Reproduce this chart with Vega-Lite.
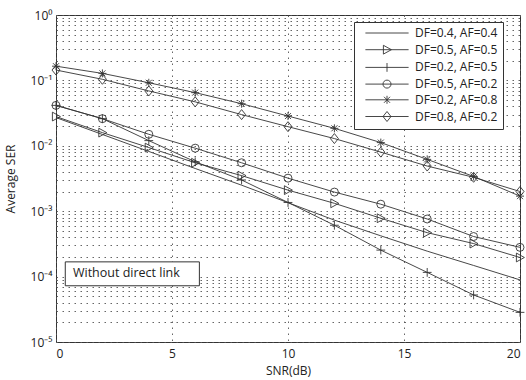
{
  "$schema": "https://vega.github.io/schema/vega-lite/v6.json",
  "width": 464,
  "height": 327,
  "autosize": {"type": "none"},
  "padding": {"left": 56, "top": 15, "right": 6, "bottom": 38},
  "background": "white",
  "config": {
    "view": {"stroke": "#333", "strokeWidth": 1},
    "font": "Open Sans",
    "axis": {
      "grid": true,
      "gridDash": [1.5, 4.5],
      "gridColor": "#555",
      "gridWidth": 0.9,
      "domain": false,
      "ticks": false,
      "labelFont": "Open Sans",
      "labelFontSize": 12,
      "labelColor": "#222",
      "titleFont": "Open Sans",
      "titleFontSize": 12,
      "titleFontWeight": "normal",
      "titleColor": "#222"
    }
  },
  "datasets": {
    "ser": [
      {"series": "DF=0.4, AF=0.4", "snr": 0, "ser": 0.027},
      {"series": "DF=0.4, AF=0.4", "snr": 2, "ser": 0.0149},
      {"series": "DF=0.4, AF=0.4", "snr": 4, "ser": 0.0082},
      {"series": "DF=0.4, AF=0.4", "snr": 6, "ser": 0.0045},
      {"series": "DF=0.4, AF=0.4", "snr": 8, "ser": 0.0025},
      {"series": "DF=0.4, AF=0.4", "snr": 10, "ser": 0.00135},
      {"series": "DF=0.4, AF=0.4", "snr": 12, "ser": 0.00073},
      {"series": "DF=0.4, AF=0.4", "snr": 14, "ser": 0.00042},
      {"series": "DF=0.4, AF=0.4", "snr": 16, "ser": 0.000245},
      {"series": "DF=0.4, AF=0.4", "snr": 18, "ser": 0.000148},
      {"series": "DF=0.4, AF=0.4", "snr": 20, "ser": 0.000089},
      {"series": "DF=0.5, AF=0.5", "snr": 0, "ser": 0.028},
      {"series": "DF=0.5, AF=0.5", "snr": 2, "ser": 0.0159},
      {"series": "DF=0.5, AF=0.5", "snr": 4, "ser": 0.0094},
      {"series": "DF=0.5, AF=0.5", "snr": 6, "ser": 0.0055},
      {"series": "DF=0.5, AF=0.5", "snr": 8, "ser": 0.0035},
      {"series": "DF=0.5, AF=0.5", "snr": 10, "ser": 0.0021},
      {"series": "DF=0.5, AF=0.5", "snr": 12, "ser": 0.00132},
      {"series": "DF=0.5, AF=0.5", "snr": 14, "ser": 0.00078},
      {"series": "DF=0.5, AF=0.5", "snr": 16, "ser": 0.00047},
      {"series": "DF=0.5, AF=0.5", "snr": 18, "ser": 0.00032},
      {"series": "DF=0.5, AF=0.5", "snr": 20, "ser": 0.000196},
      {"series": "DF=0.2, AF=0.5", "snr": 0, "ser": 0.0415},
      {"series": "DF=0.2, AF=0.5", "snr": 2, "ser": 0.026},
      {"series": "DF=0.2, AF=0.5", "snr": 4, "ser": 0.012},
      {"series": "DF=0.2, AF=0.5", "snr": 6, "ser": 0.0057},
      {"series": "DF=0.2, AF=0.5", "snr": 8, "ser": 0.003},
      {"series": "DF=0.2, AF=0.5", "snr": 10, "ser": 0.00136},
      {"series": "DF=0.2, AF=0.5", "snr": 12, "ser": 0.00061},
      {"series": "DF=0.2, AF=0.5", "snr": 14, "ser": 0.000254},
      {"series": "DF=0.2, AF=0.5", "snr": 16, "ser": 0.000116},
      {"series": "DF=0.2, AF=0.5", "snr": 18, "ser": 0.0000524},
      {"series": "DF=0.2, AF=0.5", "snr": 20, "ser": 0.0000284},
      {"series": "DF=0.5, AF=0.2", "snr": 0, "ser": 0.0415},
      {"series": "DF=0.5, AF=0.2", "snr": 2, "ser": 0.026},
      {"series": "DF=0.5, AF=0.2", "snr": 4, "ser": 0.015},
      {"series": "DF=0.5, AF=0.2", "snr": 6, "ser": 0.0092},
      {"series": "DF=0.5, AF=0.2", "snr": 8, "ser": 0.0055},
      {"series": "DF=0.5, AF=0.2", "snr": 10, "ser": 0.0032},
      {"series": "DF=0.5, AF=0.2", "snr": 12, "ser": 0.00196},
      {"series": "DF=0.5, AF=0.2", "snr": 14, "ser": 0.00128},
      {"series": "DF=0.5, AF=0.2", "snr": 16, "ser": 0.00076},
      {"series": "DF=0.5, AF=0.2", "snr": 18, "ser": 0.00041},
      {"series": "DF=0.5, AF=0.2", "snr": 20, "ser": 0.00028},
      {"series": "DF=0.2, AF=0.8", "snr": 0, "ser": 0.165},
      {"series": "DF=0.2, AF=0.8", "snr": 2, "ser": 0.128},
      {"series": "DF=0.2, AF=0.8", "snr": 4, "ser": 0.092},
      {"series": "DF=0.2, AF=0.8", "snr": 6, "ser": 0.065},
      {"series": "DF=0.2, AF=0.8", "snr": 8, "ser": 0.044},
      {"series": "DF=0.2, AF=0.8", "snr": 10, "ser": 0.0285},
      {"series": "DF=0.2, AF=0.8", "snr": 12, "ser": 0.0185},
      {"series": "DF=0.2, AF=0.8", "snr": 14, "ser": 0.0112},
      {"series": "DF=0.2, AF=0.8", "snr": 16, "ser": 0.0062},
      {"series": "DF=0.2, AF=0.8", "snr": 18, "ser": 0.0034},
      {"series": "DF=0.2, AF=0.8", "snr": 20, "ser": 0.0017},
      {"series": "DF=0.8, AF=0.2", "snr": 0, "ser": 0.144},
      {"series": "DF=0.8, AF=0.2", "snr": 2, "ser": 0.104},
      {"series": "DF=0.8, AF=0.2", "snr": 4, "ser": 0.069},
      {"series": "DF=0.8, AF=0.2", "snr": 6, "ser": 0.047},
      {"series": "DF=0.8, AF=0.2", "snr": 8, "ser": 0.03},
      {"series": "DF=0.8, AF=0.2", "snr": 10, "ser": 0.0196},
      {"series": "DF=0.8, AF=0.2", "snr": 12, "ser": 0.0129},
      {"series": "DF=0.8, AF=0.2", "snr": 14, "ser": 0.008},
      {"series": "DF=0.8, AF=0.2", "snr": 16, "ser": 0.0049},
      {"series": "DF=0.8, AF=0.2", "snr": 18, "ser": 0.0033},
      {"series": "DF=0.8, AF=0.2", "snr": 20, "ser": 0.002}
    ],
    "note": [
      {"x": 0.4, "x2": 6.18, "y": 0.000168, "y2": 0.0000724, "tx": 0.73, "ty": 0.000113, "label": "Without direct link"}
    ]
  },
  "resolve": {"scale": {"shape": "independent"}},
  "layer": [
    {
      "data": {"name": "ser"},
      "mark": {"type": "line", "color": "#333", "strokeWidth": 0.9, "clip": true},
      "encoding": {
        "x": {
          "field": "snr", "type": "quantitative",
          "scale": {"domain": [0, 20], "nice": false},
          "axis": {"values": [0, 5, 10, 15, 20], "title": "SNR(dB)", "labelPadding": 6, "titlePadding": 6}
        },
        "y": {
          "field": "ser", "type": "quantitative",
          "scale": {"type": "log", "domain": [0.00001, 1], "nice": false},
          "axis": {
            "title": "Average SER",
            "labelPadding": 4,
            "titlePadding": 13,
            "values": [0.00001, 0.00002, 0.00003, 0.00004, 0.00005, 0.00006, 0.00007, 0.00008, 0.00009,
                       0.0001, 0.0002, 0.0003, 0.0004, 0.0005, 0.0006, 0.0007, 0.0008, 0.0009,
                       0.001, 0.002, 0.003, 0.004, 0.005, 0.006, 0.007, 0.008, 0.009,
                       0.01, 0.02, 0.03, 0.04, 0.05, 0.06, 0.07, 0.08, 0.09,
                       0.1, 0.2, 0.3, 0.4, 0.5, 0.6, 0.7, 0.8, 0.9, 1],
            "labelExpr": "abs(log(datum.value)/LN10 - round(log(datum.value)/LN10)) > 0.000001 ? '' : round(log(datum.value)/LN10) == 0 ? '10⁰' : round(log(datum.value)/LN10) == -1 ? '10⁻¹' : round(log(datum.value)/LN10) == -2 ? '10⁻²' : round(log(datum.value)/LN10) == -3 ? '10⁻³' : round(log(datum.value)/LN10) == -4 ? '10⁻⁴' : '10⁻⁵'"
          }
        },
        "detail": {"field": "series"}
      }
    },
    {
      "data": {"name": "ser"},
      "transform": [{"filter": "datum.series !== 'DF=0.4, AF=0.4'"}],
      "mark": {"type": "point", "filled": false, "color": "#333", "strokeWidth": 0.9, "size": 64, "opacity": 1},
      "encoding": {
        "x": {"field": "snr", "type": "quantitative"},
        "y": {"field": "ser", "type": "quantitative"},
        "shape": {
          "field": "series", "type": "nominal",
          "scale": {
            "domain": ["DF=0.4, AF=0.4", "DF=0.5, AF=0.5", "DF=0.2, AF=0.5", "DF=0.5, AF=0.2", "DF=0.2, AF=0.8", "DF=0.8, AF=0.2"],
            "range": ["M0,0", "M-0.9,-1.1L1.1,0L-0.9,1.1Z", "M-1.1,0H1.1M0,-1.1V1.1", "circle", "M-1,0H1M0,-1V1M-0.75,-0.75L0.75,0.75M-0.75,0.75L0.75,-0.75", "M0,-1.25L1,0L0,1.25L-1,0Z"]
          },
          "legend": null
        }
      }
    },
    {
      "data": {"name": "ser"},
      "transform": [{"filter": "false"}],
      "mark": {"type": "point", "filled": false, "color": "#333", "strokeWidth": 0.9, "size": 64, "opacity": 1},
      "encoding": {
        "x": {"field": "snr", "type": "quantitative"},
        "y": {"field": "ser", "type": "quantitative"},
        "shape": {
          "field": "series", "type": "nominal",
          "scale": {
            "domain": ["DF=0.4, AF=0.4", "DF=0.5, AF=0.5", "DF=0.2, AF=0.5", "DF=0.5, AF=0.2", "DF=0.2, AF=0.8", "DF=0.8, AF=0.2"],
            "range": ["M-5.4,0H5.4", "M-5.4,0H5.4M-0.9,-1.1L1.1,0L-0.9,1.1Z", "M-5.4,0H5.4M0,-1.1V1.1", "M-5.4,0H5.4M1,0A1,1,0,1,1,-1,0A1,1,0,1,1,1,0Z", "M-5.4,0H5.4M0,-1V1M-0.75,-0.75L0.75,0.75M-0.75,0.75L0.75,-0.75", "M-5.4,0H5.4M0,-1.25L1,0L0,1.25L-1,0Z"]
          },
          "legend": {
            "title": null,
            "orient": "none",
            "legendX": 298,
            "legendY": 7,
            "fillColor": "white",
            "strokeColor": "#333",
            "padding": 5,
            "labelFont": "Open Sans",
            "labelFontSize": 12,
            "labelColor": "#222",
            "rowPadding": 3.7,
            "symbolSize": 64,
            "symbolOffset": 22,
            "labelOffset": 22,
            "symbolStrokeColor": "#333",
            "symbolStrokeWidth": 0.9,
            "symbolFillColor": "transparent",
            "symbolOpacity": 1
          }
        }
      }
    },
    {
      "data": {"name": "note"},
      "mark": {"type": "rect", "fill": "white", "stroke": "#333", "strokeWidth": 1},
      "encoding": {
        "x": {"field": "x", "type": "quantitative"},
        "x2": {"field": "x2"},
        "y": {"field": "y", "type": "quantitative"},
        "y2": {"field": "y2"}
      }
    },
    {
      "data": {"name": "note"},
      "mark": {"type": "text", "align": "left", "baseline": "middle", "fontSize": 12.5, "font": "Open Sans", "color": "#222"},
      "encoding": {
        "x": {"field": "tx", "type": "quantitative"},
        "y": {"field": "ty", "type": "quantitative"},
        "text": {"field": "label"}
      }
    }
  ]
}
